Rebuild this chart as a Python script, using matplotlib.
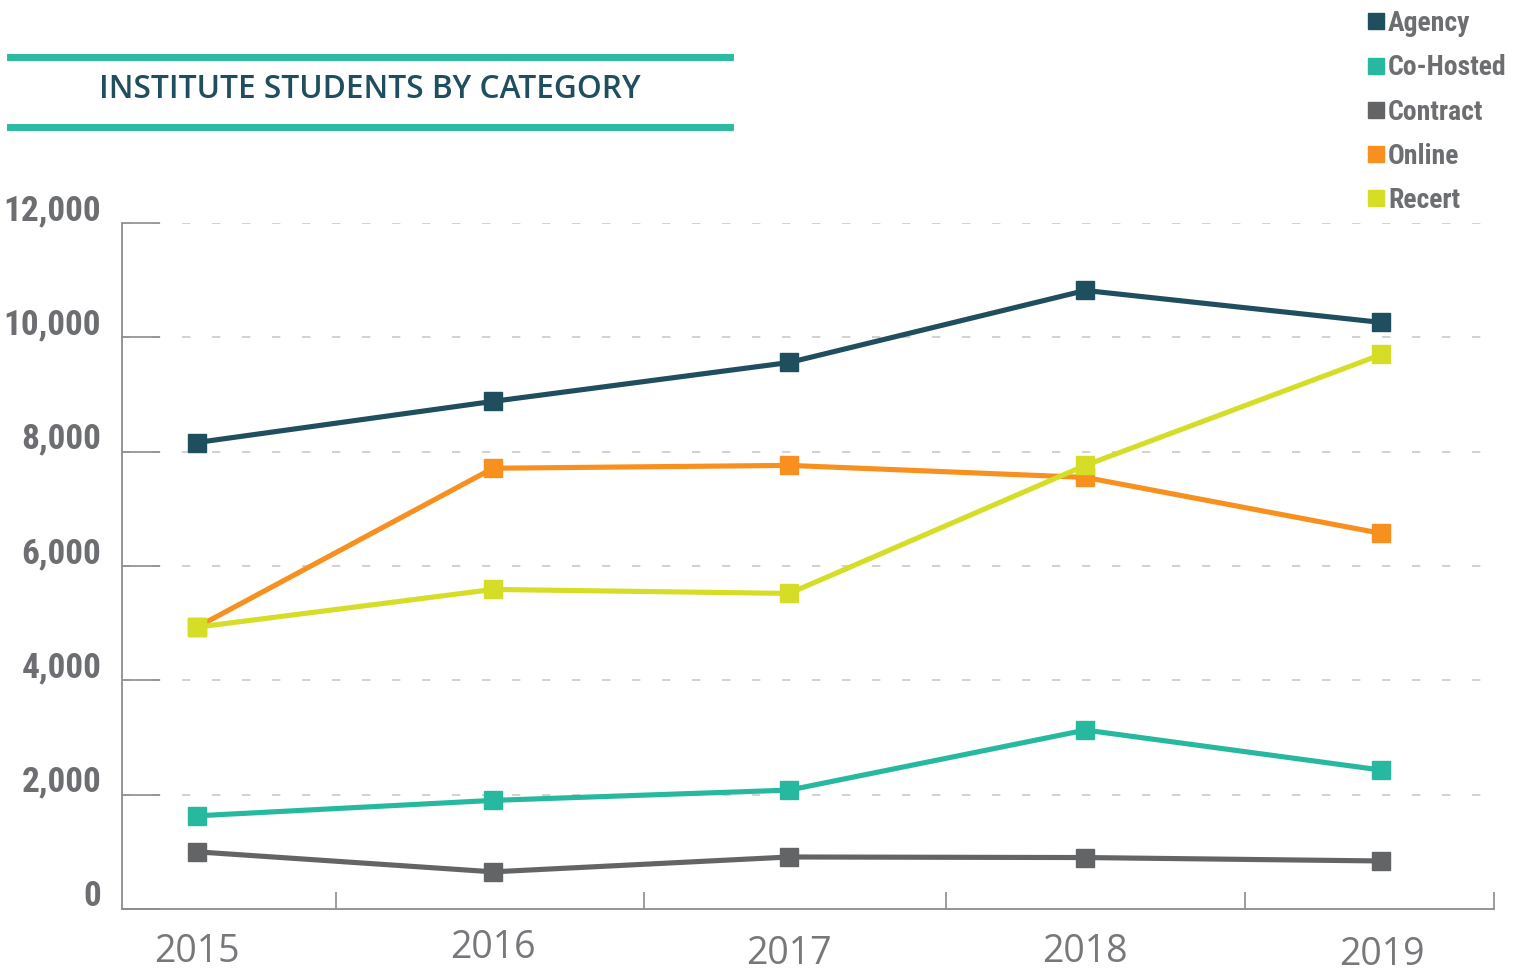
import matplotlib
matplotlib.use("Agg")
import matplotlib.pyplot as plt
from matplotlib.lines import Line2D
from matplotlib.transforms import ScaledTranslation

years = ["2015", "2016", "2017", "2018", "2019"]
agency = [8160, 8880, 9560, 10820, 10260]
cohosted = [1630, 1900, 2080, 3130, 2430]
contract = [1000, 650, 910, 900, 840]
online = [4930, 7710, 7760, 7550, 6570]
recert = [4930, 5590, 5520, 7760, 9700]

series = [
    ("Agency", agency, "#1f4e5f"),
    ("Co-Hosted", cohosted, "#26b9a0"),
    ("Contract", contract, "#636466"),
    ("Online", online, "#f7901e"),
    ("Recert", recert, "#d6dd27"),
]
yticks = [0, 2000, 4000, 6000, 8000, 10000, 12000]
ytick_labels = ["0", "2,000", "4,000", "6,000", "8,000", "10,000", "12,000"]
sep_ticks = [0.47, 1.51, 2.53, 3.54, 4.38]
year_label_shift = [0, 4, -2, 0, -3]

COND = ["Roboto Condensed", "Open Sans Condensed", "Liberation Sans Narrow", "Roboto", "DejaVu Sans"]

W, H, DPI = 1517, 971, 100
fig = plt.figure(figsize=(W / DPI, H / DPI), dpi=DPI)
ax = fig.add_axes([122 / W, 1 - 909 / H, (1494 - 122) / W, (909 - 223) / H])

x = list(range(len(years)))
handles = []
for name, vals, col in series:
    ax.plot(x, vals, color=col, lw=3.7, marker="s", ms=13, mec=col, mfc=col,
            solid_joinstyle="miter", zorder=3)
    handles.append(Line2D([], [], ls="none", marker="s", ms=11, color=col, label=name))

ax.set_xlim(-0.253, 4.38)
ax.set_ylim(0, 12000)

for s in ["top", "right"]:
    ax.spines[s].set_visible(False)
for s in ["left", "bottom"]:
    ax.spines[s].set_color("#8c8c8c")
    ax.spines[s].set_linewidth(1.3)

gray_lbl = "#6d6e71"
ax.set_yticks(yticks)
ax.set_yticklabels(ytick_labels, family=COND, fontweight="bold", fontsize=25.5, color=gray_lbl)
ax.tick_params(axis="y", direction="in", length=27, width=1.2, color="#8c8c8c", pad=15)
for lab in ax.get_yticklabels():
    lab.set_transform(lab.get_transform() + ScaledTranslation(0, 16 / DPI, fig.dpi_scale_trans))

ax.set_xticks(x)
ax.set_xticklabels(years, family="Open Sans", fontsize=27, color="#77787b")
ax.tick_params(axis="x", which="major", length=0, pad=17)
for lab, dy in zip(ax.get_xticklabels(), year_label_shift):
    lab.set_transform(lab.get_transform() + ScaledTranslation(0, dy / DPI, fig.dpi_scale_trans))
ax.set_xticks(sep_ticks, minor=True)
ax.tick_params(axis="x", which="minor", direction="in", length=12, width=1.2, color="#8c8c8c")

for v in yticks[1:]:
    ax.axhline(v, color="#c9c9c9", lw=1.2, dashes=(5, 13), zorder=1)

fig.legend(handles=handles, loc="upper left", bbox_to_anchor=(1357 / W, 1 + 1 / H),
           frameon=False, handlelength=0.6, handletextpad=0.12, labelspacing=0.62,
           prop={"family": COND, "weight": "bold", "size": 20},
           labelcolor="#6d6e71", borderaxespad=0)

teal = "#2bbba3"
fig.add_artist(Line2D([10 / W, 730 / W], [1 - 57 / H, 1 - 57 / H], color=teal, lw=5,
                      transform=fig.transFigure))
fig.add_artist(Line2D([10 / W, 730 / W], [1 - 127 / H, 1 - 127 / H], color=teal, lw=5,
                      transform=fig.transFigure))
fig.text(370 / W, 1 - 89 / H, "INSTITUTE STUDENTS BY CATEGORY", ha="center", va="center",
         family="Open Sans", fontweight="semibold", fontsize=22.8, color="#1f4e5f")

fig.savefig("out.png", dpi=DPI)
